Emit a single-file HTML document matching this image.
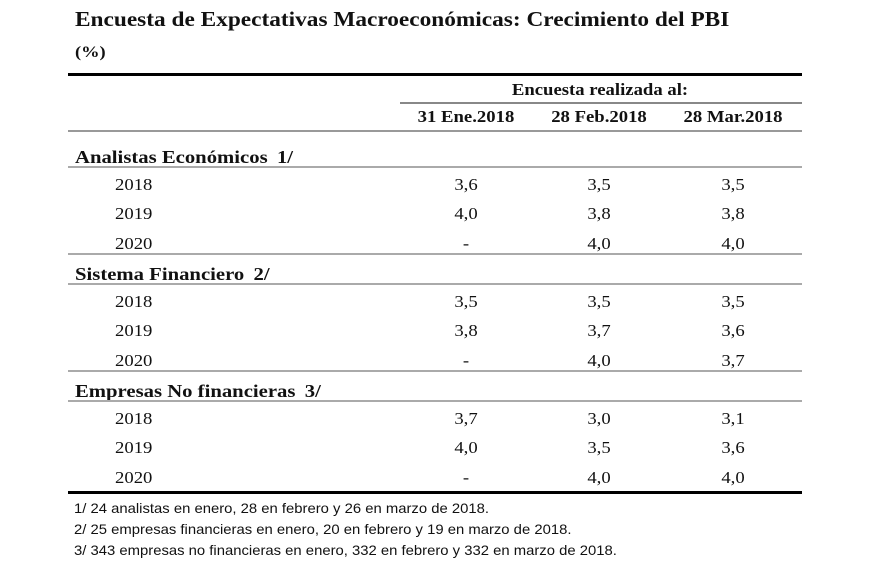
<!DOCTYPE html>
<html><head><meta charset="utf-8"><style>
body{margin:0;width:882px;height:583px;background:#fff;position:relative;overflow:hidden;font-family:"Liberation Serif",serif;color:#111}
.t{position:absolute;white-space:nowrap;line-height:1;transform-origin:left top}
.c{transform:translateX(-50%) scaleX(1.1);transform-origin:center top}
.b{font-weight:bold}
.l{position:absolute;left:68px;width:734px}
.fn{font-family:"Liberation Sans Narrow","Liberation Sans",sans-serif;font-size:14px;transform:scaleX(1.06)}
</style></head><body>
<div class="t b" style="left:75px;top:9px;font-size:21px;transform:scaleX(1.11)">Encuesta de Expectativas Macroeconómicas: Crecimiento del PBI</div>
<div class="t b" style="left:75px;top:45px;font-size:16px;transform:scaleX(1.15)">(%)</div>
<div class="l" style="top:73px;height:3px;background:#000"></div>
<div class="t b c" style="left:600px;top:81px;font-size:17px">Encuesta realizada al:</div>
<div class="l" style="left:400px;width:402px;top:102px;height:2px;background:#888"></div>
<div class="t b c" style="left:466px;top:108px;font-size:17px">31 Ene.2018</div>
<div class="t b c" style="left:599px;top:108px;font-size:17px">28 Feb.2018</div>
<div class="t b c" style="left:733px;top:108px;font-size:17px">28 Mar.2018</div>
<div class="l" style="top:130px;height:2px;background:#999"></div>
<div id="rows"></div>
<div class="l" style="top:491px;height:3px;background:#000"></div>
<div class="t fn" style="left:74px;top:501px">1/ 24 analistas en enero, 28 en febrero y 26 en marzo de 2018.</div>
<div class="t fn" style="left:74px;top:522px">2/ 25 empresas financieras en enero, 20 en febrero y 19 en marzo de 2018.</div>
<div class="t fn" style="left:74px;top:543px">3/ 343 empresas no financieras en enero, 332 en febrero y 332 en marzo de 2018.</div>
<script>
const groups=["Analistas Económicos 1/","Sistema Financiero 2/","Empresas No financieras 3/"];
const years=["2018","2019","2020"];
const vals=[[["3,6","3,5","3,5"],["4,0","3,8","3,8"],["-","4,0","4,0"]],
[["3,5","3,5","3,5"],["3,8","3,7","3,6"],["-","4,0","3,7"]],
[["3,7","3,0","3,1"],["4,0","3,5","3,6"],["-","4,0","4,0"]]];
const colX=[466,599,733];
const root=document.getElementById('rows');
function mk(cls,style,text){const d=document.createElement('div');d.className=cls;d.style.cssText=style;if(text!==undefined)d.textContent=text;root.appendChild(d);return d;}
groups.forEach((g,gi)=>{
 const base=149+gi*117;
 const h=mk('t b',`left:75px;top:${base-1}px;font-size:18px;transform:scaleX(1.15)`,g.replace(/ (\d\/)$/,'\u2009 $1'));
 
 
 const r=mk('l',`top:${base+17}px;height:2px;background:#aaa`);
 
 
 if(gi<2){const r2=mk('l',`top:${base+104}px;height:2px;background:#aaa`);
 
 }
 years.forEach((y,yi)=>{
  const top=base+27+yi*29.3;
  const yl=mk('t',`left:115px;top:${top}px;font-size:17px;transform:scaleX(1.1)`,y);
  
  
  vals[gi][yi].forEach((v,ci)=>{
   const c=mk('t c',`left:${colX[ci]}px;top:${top}px;font-size:17px`,v);
   
   
  });
 });
});
</script>
</body></html>
